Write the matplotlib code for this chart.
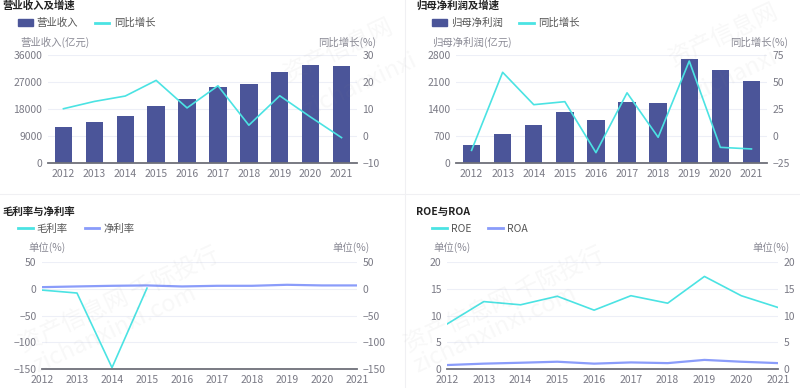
import numpy as np
import matplotlib
matplotlib.use('Agg')
import matplotlib.pyplot as plt
from matplotlib.patches import Patch
from matplotlib.lines import Line2D

plt.rcParams['font.family'] = ['Noto Sans CJK SC', 'DejaVu Sans']

years = ['2012', '2013', '2014', '2015', '2016', '2017', '2018', '2019', '2020', '2021']
revenue = [12000, 13700, 15800, 19100, 21200, 25300, 26400, 30500, 32700, 32400]
revenue_yoy = [10.1, 12.8, 14.8, 20.6, 10.4, 18.6, 4.0, 14.9, 7.0, -0.6]
profit = [467, 760, 994, 1314, 1123, 1590, 1564, 2688, 2402, 2126]
profit_yoy = [-13.3, 59.0, 29.0, 31.8, -15.4, 40.0, -1.2, 69.4, -10.5, -12.0]
gross_margin = [-2.5, -8.0, -147.5, 1.2, np.nan, np.nan, np.nan, np.nan, np.nan, np.nan]
net_margin = [3.0, 4.3, 5.5, 6.2, 4.3, 5.5, 5.5, 7.4, 6.2, 6.2]
roe = [8.4, 12.6, 12.0, 13.6, 11.0, 13.7, 12.3, 17.3, 13.7, 11.5]
roa = [0.74, 1.0, 1.17, 1.36, 1.0, 1.23, 1.1, 1.7, 1.36, 1.1]

BAR = '#4B5599'
CYAN = '#4BE3E3'
BLUE = '#8A9CFA'
GRID = '#EDEFF7'
AXIS = '#6E7079'
TICK = '#7A7A85'
NAME = '#8A8A95'

W, H = 800, 388
fig = plt.figure(figsize=(8, 3.88), dpi=100)


def rect(x0, y0, x1, y1):
    return [x0 / W, 1 - y1 / H, (x1 - x0) / W, (y1 - y0) / H]


def fy(y):
    return 1 - y / H


def style(ax, ylim, ticks, twin, rticks, rlim):
    ax.set_ylim(*ylim)
    ax.set_yticks(ticks)
    ax.grid(axis='y', color=GRID, lw=0.8)
    ax.set_axisbelow(True)
    for s in ['top', 'right', 'left']:
        ax.spines[s].set_visible(False)
    ax.spines['bottom'].set_color(AXIS)
    ax.spines['bottom'].set_linewidth(1.3)
    ax.tick_params(axis='both', length=0, labelsize=7.5, labelcolor=TICK, pad=4)
    ax.set_xticks(range(len(years)))
    ax.set_xticklabels(years)
    twin.set_ylim(*rlim)
    twin.set_yticks(rticks)
    for s in twin.spines.values():
        s.set_visible(False)
    twin.tick_params(axis='y', length=0, labelsize=7.5, labelcolor=TICK, pad=4)


def header(x, title, handles, labels, lx, left_name, right_name, lnx, rnx, ty, ly, ny):
    fig.text(x / W, fy(ty), title, fontsize=7.5, fontweight='bold', color='#222', va='center')
    fig.legend(handles, labels, loc='center left', bbox_to_anchor=(lx / W, fy(ly)),
               ncol=2, frameon=False, fontsize=7.5, labelcolor='#555', handlelength=1.4,
               columnspacing=1.6, handletextpad=0.4, borderaxespad=0, borderpad=0)
    fig.text(lnx / W, fy(ny), left_name, fontsize=7.5, color=NAME, va='center', ha='left')
    fig.text(rnx / W, fy(ny), right_name, fontsize=7.5, color=NAME, va='center', ha='right')


x = np.arange(len(years))

# top left
ax1 = fig.add_axes(rect(48, 55, 357, 163))
ax1b = ax1.twinx()
ax1.bar(x, revenue, width=0.56, color=BAR, zorder=2)
ax1b.plot(x, revenue_yoy, color=CYAN, lw=1.2)
ax1.set_xlim(-0.5, 9.5)
style(ax1, (0, 36000), [0, 9000, 18000, 27000, 36000], ax1b, [-10, 0, 10, 20, 30], (-10, 30))
header(2, '营业收入及增速',
       [Patch(color=BAR), Line2D([], [], color=CYAN, lw=2)], ['营业收入', '同比增长'],
       18, '营业收入(亿元)', '同比增长(%)', 20, 376, 6, 23, 42)

# top right
ax2 = fig.add_axes(rect(456, 55, 767, 163))
ax2b = ax2.twinx()
ax2.bar(x, profit, width=0.56, color=BAR, zorder=2)
ax2b.plot(x, profit_yoy, color=CYAN, lw=1.2)
ax2.set_xlim(-0.5, 9.5)
style(ax2, (0, 2800), [0, 700, 1400, 2100, 2800], ax2b, [-25, 0, 25, 50, 75], (-25, 75))
header(416, '归母净利润及增速',
       [Patch(color=BAR), Line2D([], [], color=CYAN, lw=2)], ['归母净利润', '同比增长'],
       432, '归母净利润(亿元)', '同比增长(%)', 432, 788, 6, 23, 42)

# bottom left
ax3 = fig.add_axes(rect(42, 262, 357, 369))
ax3b = ax3.twinx()
ax3.plot(x, gross_margin, color=CYAN, lw=1.2)
ax3.plot(x, net_margin, color=BLUE, lw=1.6)
ax3.set_xlim(0, 9)
style(ax3, (-150, 50), [-150, -100, -50, 0, 50], ax3b, [-150, -100, -50, 0, 50], (-150, 50))
header(2, '毛利率与净利率',
       [Line2D([], [], color=CYAN, lw=2), Line2D([], [], color=BLUE, lw=2)], ['毛利率', '净利率'],
       18, '单位(%)', '单位(%)', 28, 370, 212, 229, 248)

# bottom right
ax4 = fig.add_axes(rect(447, 262, 778, 369))
ax4b = ax4.twinx()
ax4.plot(x, roe, color=CYAN, lw=1.2)
ax4.plot(x, roa, color=BLUE, lw=1.6)
ax4.set_xlim(0, 9)
style(ax4, (0, 20), [0, 5, 10, 15, 20], ax4b, [0, 5, 10, 15, 20], (0, 20))
header(416, 'ROE与ROA',
       [Line2D([], [], color=CYAN, lw=2), Line2D([], [], color=BLUE, lw=2)], ['ROE', 'ROA'],
       432, '单位(%)', '单位(%)', 433, 790, 212, 229, 248)

# divider lines
fig.add_artist(Line2D([0, 1], [fy(194), fy(194)], color='#F0F0F3', lw=0.8))
fig.add_artist(Line2D([405 / W, 405 / W], [0, 1], color='#F0F0F3', lw=0.8))

# watermarks
wm = dict(color='#888888', alpha=0.06, rotation=25, fontsize=17, ha='left', va='center')
for (wx, wy, s) in [(15, 300, '资产信息网 千际投行'), (400, 300, '资产信息网 千际投行'),
                    (280, 50, '资产信息网'), (665, 35, '资产信息网')]:
    fig.text(wx / W, fy(wy), s, **wm)
for (wx, wy, s) in [(30, 330, 'zichanxinxi.com'), (410, 330, 'zichanxinxi.com'),
                    (300, 85, 'zichanxinxi'), (690, 75, 'zichanxi')]:
    fig.text(wx / W, fy(wy), s, **wm)

fig.savefig('out.png', dpi=100, facecolor='white')
